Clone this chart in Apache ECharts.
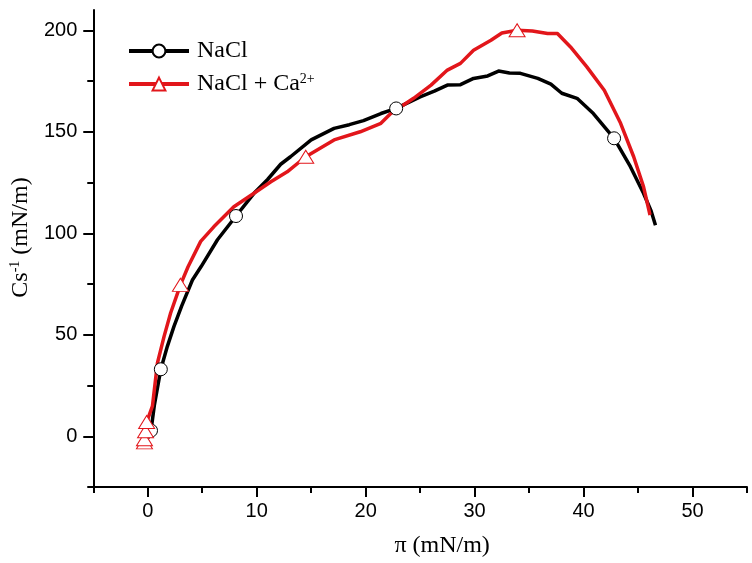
<!DOCTYPE html>
<html><head><meta charset="utf-8">
<script src="https://cdn.jsdelivr.net/npm/echarts@6/dist/echarts.min.js"></script>
<style>html,body{margin:0;padding:0;background:#fff}#c{width:752px;height:563px}</style>
</head><body><div id="c"></div>
<script>
// ---- data ----
const naclName = 'NaCl';
const caName = 'NaCl + Ca2+';
const naclX = [0.0, 0.3, 0.6, 1.2, 1.8, 2.4, 3.1, 4.1, 4.9, 6.4, 8.1, 9.75, 11.0, 12.2, 13.1, 15.0, 17.1, 18.5, 19.8, 21.4, 22.8, 25.0, 26.3, 27.5, 28.7, 29.9, 31.2, 32.2, 33.2, 34.2, 35.8, 37.0, 38.0, 39.4, 40.9, 42.8, 44.3, 45.5, 46.2, 46.6];
const naclY = [-1.0, 2.8, 15.0, 33.0, 44.3, 54.0, 64.0, 77.0, 83.6, 96.8, 108.5, 119.7, 126.5, 134.0, 137.7, 146.0, 151.7, 153.5, 155.5, 159.0, 161.5, 167.2, 170.0, 173.0, 173.2, 176.3, 177.5, 179.9, 179.0, 178.8, 176.3, 173.5, 169.0, 166.5, 159.0, 146.8, 132.8, 119.7, 111.0, 104.0];
const naclMarkIdx = [1, 3, 10, 20, 35];

const caX = [-0.2, -0.3, -0.3, -0.2, -0.1, 0.43, 0.89, 1.5, 2.1, 3.0, 3.7, 4.86, 6.08, 7.9, 9.75, 11.3, 12.8, 14.5, 17.1, 19.5, 21.4, 22.3, 24.4, 26.0, 27.5, 28.7, 29.9, 31.5, 32.5, 33.9, 35.3, 36.7, 37.6, 38.8, 40.3, 41.9, 43.4, 44.6, 45.5, 46.1];
const caY = [-5.5, -3.0, -1.5, 2.5, 7.0, 14.8, 36.1, 49.2, 60.7, 74.6, 83.5, 96.0, 103.3, 113.1, 119.7, 125.4, 130.3, 137.7, 146.0, 150.0, 154.2, 159.0, 166.5, 173.0, 180.4, 183.7, 190.2, 195.1, 198.7, 200.0, 199.7, 198.4, 198.4, 191.8, 182.0, 170.5, 154.2, 137.7, 123.0, 109.0];
const caMarkIdx = [1, 2, 3, 4, 9, 17, 29];

const xMajorTicks = [0, 10, 20, 30, 40, 50];
const xMinorTicks = [-5, 5, 15, 25, 35, 45, 55];
const yMajorTicks = [0, 50, 100, 150, 200];
const yMinorTicks = [-25, 25, 75, 125, 175];
const xRange = [-5, 55];
const yRange = [-25, 210];

// ---- chart ----
const zip = (xs, ys) => xs.map((x, i) => [x, ys[i]]);
const black = '#000';
const red = '#e2161b';
const labelFont = {fontFamily: 'Liberation Sans', fontSize: 20, color: '#000'};
const axisLineStyle = {color: '#000', width: 2};

const chart = echarts.init(document.getElementById('c'), null, {renderer: 'canvas'});
chart.setOption({
  animation: false,
  backgroundColor: '#fff',
  grid: {left: 93, right: 5, top: 10, bottom: 75, containLabel: false},
  legend: {
    orient: 'vertical', left: 127, top: 39, padding: 0,
    itemWidth: 60, itemHeight: 16, itemGap: 9,
    selectedMode: false,
    data: [naclName, caName],
    lineStyle: {width: 4},
    formatter: n => n === caName ? '{n|NaCl + Ca}{s|2+}' : '{n|' + n + '}',
    textStyle: {
      fontFamily: 'Liberation Serif', fontSize: 24, color: '#000', padding: [0, 0, 0, 3],
      rich: {
        n: {fontFamily: 'Liberation Serif', fontSize: 24, color: '#000', lineHeight: 24},
        s: {fontFamily: 'Liberation Serif', fontSize: 14, color: '#000', verticalAlign: 'top', lineHeight: 14}
      }
    }
  },
  xAxis: [
    {
      type: 'value', min: xRange[0], max: xRange[1], position: 'bottom',
      axisLine: {show: true, onZero: false, lineStyle: axisLineStyle},
      axisTick: {show: true, customValues: xMinorTicks, length: 6, lineStyle: axisLineStyle},
      axisLabel: {show: false},
      splitLine: {show: false}
    },
    {
      type: 'value', min: xRange[0], max: xRange[1], position: 'bottom',
      axisLine: {show: false, onZero: false},
      axisTick: {show: true, customValues: xMajorTicks, length: 10, lineStyle: axisLineStyle},
      axisLabel: Object.assign({show: true, customValues: xMajorTicks, margin: 14}, labelFont),
      splitLine: {show: false},
      name: 'π (mN/m)', nameLocation: 'middle', nameGap: 47,
      nameTextStyle: {fontFamily: 'Liberation Serif', fontSize: 24, color: '#000', padding: [0, 0, 0, 44]}
    }
  ],
  yAxis: [
    {
      type: 'value', min: yRange[0], max: yRange[1], position: 'left',
      axisLine: {show: true, onZero: false, lineStyle: axisLineStyle},
      axisTick: {show: true, customValues: yMinorTicks, length: 6, lineStyle: axisLineStyle},
      axisLabel: {show: false},
      splitLine: {show: false}
    },
    {
      type: 'value', min: yRange[0], max: yRange[1], position: 'left',
      axisLine: {show: false, onZero: false},
      axisTick: {show: true, customValues: yMajorTicks, length: 10, lineStyle: axisLineStyle},
      axisLabel: Object.assign({show: true, customValues: yMajorTicks, margin: 16}, labelFont),
      splitLine: {show: false},
      name: '{a|Cs}{b|-1}{a| (mN/m)}', nameLocation: 'middle', nameGap: 58,
      nameTextStyle: {
        fontFamily: 'Liberation Serif', fontSize: 24, color: '#000', padding: [0, 0, 0, 22],
        rich: {
          a: {fontFamily: 'Liberation Serif', fontSize: 24, color: '#000', lineHeight: 26},
          b: {fontFamily: 'Liberation Serif', fontSize: 14, color: '#000', verticalAlign: 'top', lineHeight: 14}
        }
      }
    }
  ],
  series: [
    {
      name: naclName, type: 'line', xAxisIndex: 0, yAxisIndex: 0,
      data: zip(naclX, naclY),
      symbol: 'circle', showSymbol: true, showAllSymbol: true,
      symbolSize: (v, p) => naclMarkIdx.indexOf(p.dataIndex) >= 0 ? 13 : 0,
      lineStyle: {color: black, width: 3.5, join: 'round'},
      itemStyle: {color: '#fff', borderColor: black, borderWidth: 1},
      emphasis: {disabled: true}
    },
    {
      name: caName, type: 'line', xAxisIndex: 0, yAxisIndex: 0,
      data: zip(caX, caY),
      symbol: 'triangle', showSymbol: true, showAllSymbol: true,
      symbolSize: (v, p) => caMarkIdx.indexOf(p.dataIndex) >= 0 ? [16, 13] : 0,
      lineStyle: {color: red, width: 3.5, join: 'round'},
      itemStyle: {color: '#fff', borderColor: red, borderWidth: 1},
      emphasis: {disabled: true}
    }
  ]
});
</script>
</body></html>
